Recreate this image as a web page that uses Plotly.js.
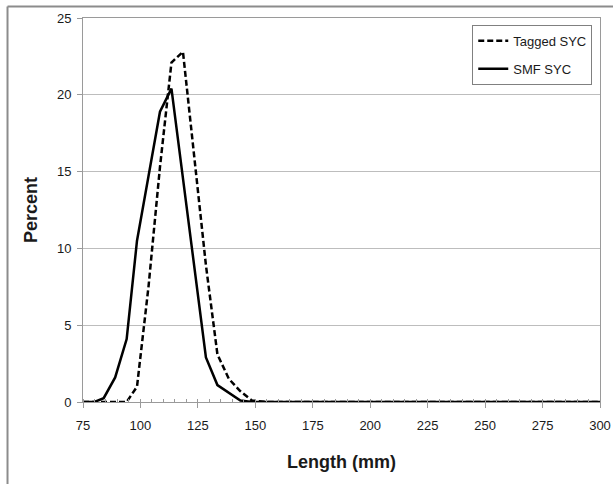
<!DOCTYPE html>
<html>
<head>
<meta charset="utf-8">
<script src="https://cdn.plot.ly/plotly-3.0.1.min.js"></script>
<style>
  html, body { margin: 0; padding: 0; background: #ffffff; }
  #chart { width: 613px; height: 484px; }
</style>
</head>
<body>
<div id="chart"></div>
<script>
// Length-frequency distributions (percent of fish per length class, mm)
const lengthMm = [75, 80, 84, 89, 94, 98.5, 103.5, 108.5, 113.5, 118.5, 123.5, 128.5, 133.5, 138.5, 143.5, 148.5,
  155, 160, 165, 170, 175, 180, 185, 190, 195, 200, 205, 210, 215, 220, 225, 230, 235, 240, 245, 250,
  255, 260, 265, 270, 275, 280, 285, 290, 295, 300];

const taggedSYC = [0, 0, 0, 0, 0, 1.0, 7.5, 15.3, 22.1, 22.8, 15.9, 8.9, 3.1, 1.5, 0.7, 0.1,
  0, 0, 0, 0, 0, 0, 0, 0, 0, 0, 0, 0, 0, 0, 0, 0, 0, 0, 0, 0,
  0, 0, 0, 0, 0, 0, 0, 0, 0, 0];

const smfSYC = [0, 0, 0.25, 1.6, 4.1, 10.5, 14.7, 18.9, 20.4, 14.6, 8.8, 2.9, 1.1, 0.6, 0.1, 0,
  0, 0, 0, 0, 0, 0, 0, 0, 0, 0, 0, 0, 0, 0, 0, 0, 0, 0, 0, 0,
  0, 0, 0, 0, 0, 0, 0, 0, 0, 0];

const xTicks = [75, 100, 125, 150, 175, 200, 225, 250, 275, 300];
const yTicks = [0, 5, 10, 15, 20, 25];

const FONT = 'Arial, "Liberation Sans", sans-serif';
const GRID = '#bdbdbd';
const AXIS = '#9a9a9a';

const traces = [
  {
    x: lengthMm, y: taggedSYC, name: 'Tagged SYC', legendgroup: 'tagged',
    type: 'scatter', mode: 'lines',
    line: { color: '#000000', width: 2.5, dash: '6px,3px' },
    hoverinfo: 'x+y'
  },
  {
    x: lengthMm, y: smfSYC, name: 'SMF SYC', legendgroup: 'smf',
    type: 'scatter', mode: 'lines',
    line: { color: '#000000', width: 2.5 },
    hoverinfo: 'x+y'
  }
];

const layout = {
  width: 613, height: 484,
  margin: { l: 83, r: 13, t: 18, b: 82 },
  paper_bgcolor: '#ffffff',
  plot_bgcolor: '#ffffff',
  font: { family: FONT, size: 13, color: '#1a1a1a' },
  showlegend: true,
  legend: {
    x: 0.985, xanchor: 'right', y: 0.982, yanchor: 'top',
    bgcolor: '#ffffff', bordercolor: '#808080', borderwidth: 1,
    font: { family: FONT, size: 13, color: '#1a1a1a' },
    tracegroupgap: 8,
    itemwidth: 30
  },
  xaxis: {
    range: [75, 300],
    tickvals: xTicks,
    ticktext: xTicks.map(String),
    ticks: 'outside', ticklen: 5, tickcolor: AXIS, tickwidth: 1,
    minor: { dtick: 5, tick0: 75, ticks: 'inside', ticklen: 3, tickcolor: AXIS, showgrid: false },
    showgrid: false, zeroline: false,
    showline: true, linecolor: AXIS, linewidth: 1, mirror: true,
    tickfont: { family: FONT, size: 13, color: '#1a1a1a' },
    ticklabelstandoff: 6,
    title: { text: 'Length (mm)', font: { family: FONT, size: 18, color: '#1a1a1a', weight: 'bold' }, standoff: 23 },
    fixedrange: true
  },
  yaxis: {
    range: [0, 25],
    tickvals: yTicks,
    ticktext: yTicks.map(String),
    ticks: 'outside', ticklen: 5, tickcolor: AXIS, tickwidth: 1,
    showgrid: true, gridcolor: GRID, gridwidth: 1,
    zeroline: false,
    showline: true, linecolor: AXIS, linewidth: 1, mirror: true,
    tickfont: { family: FONT, size: 13, color: '#1a1a1a' },
    ticklabelstandoff: 3,
    title: { text: 'Percent', font: { family: FONT, size: 18, color: '#1a1a1a', weight: 'bold' }, standoff: 14 },
    fixedrange: true
  },
  shapes: [
    // outer chart frame (left and top edges)
    { type: 'line', xref: 'paper', yref: 'paper', x0: -0.146, x1: -0.146, y0: 1.03, y1: -0.3,
      line: { color: '#8c8c8c', width: 2 } },
    { type: 'line', xref: 'paper', yref: 'paper', x0: -0.146, x1: 1.05, y0: 1.03, y1: 1.03,
      line: { color: '#8c8c8c', width: 2 } }
  ]
};

Plotly.newPlot('chart', traces, layout, { displayModeBar: false, staticPlot: true });
</script>
</body>
</html>
